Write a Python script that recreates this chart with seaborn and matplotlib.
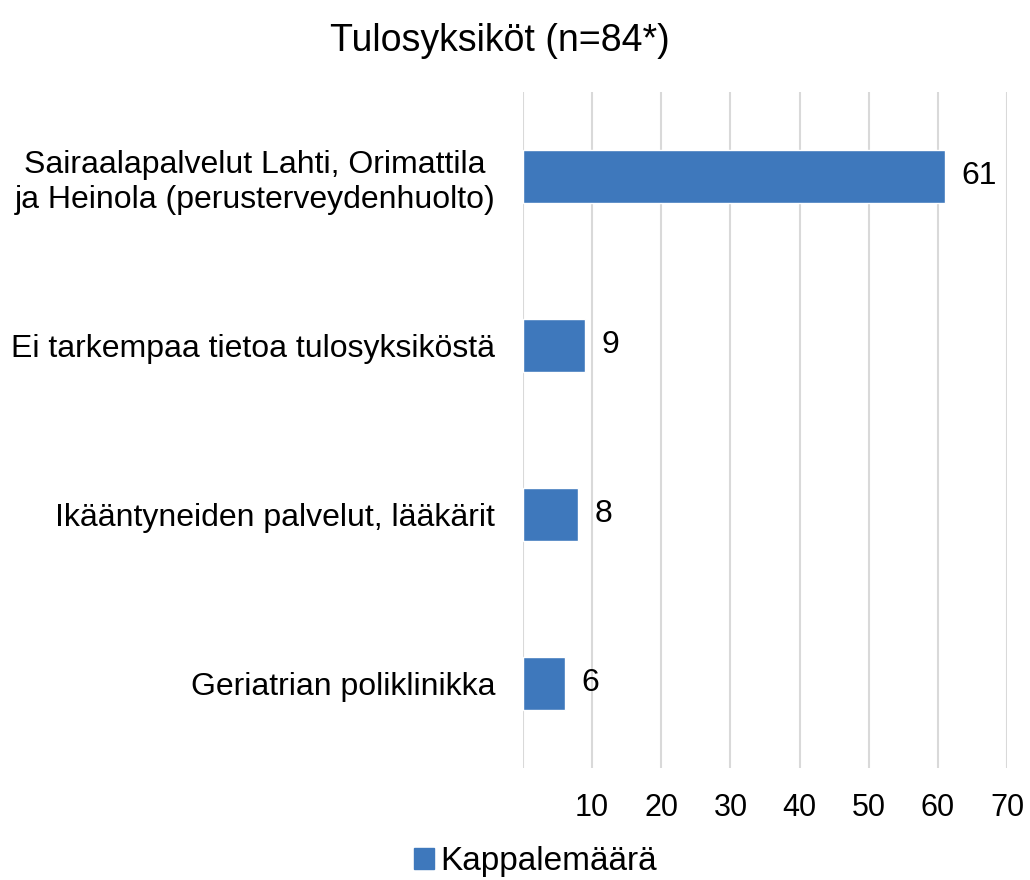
import matplotlib
matplotlib.use('Agg')
import matplotlib.pyplot as plt
import pandas as pd
import seaborn as sns

# data
categories = [
    'Sairaalapalvelut Lahti, Orimattila\nja Heinola (perusterveydenhuolto)',
    'Ei tarkempaa tietoa tulosyksiköstä',
    'Ikääntyneiden palvelut, lääkärit',
    'Geriatrian poliklinikka',
]
counts = [61, 9, 8, 6]
x_ticks = [0, 10, 20, 30, 40, 50, 60, 70]
x_tick_labels = ['', '10', '20', '30', '40', '50', '60', '70']
series_name = 'Kappalemäärä'
title = 'Tulosyksiköt (n=84*)'

bar_color = '#3E78BC'

sns.set_theme(style='white')
plt.rcParams['font.family'] = ['Liberation Sans', 'DejaVu Sans']
plt.rcParams['text.color'] = 'black'
plt.rcParams['xtick.color'] = 'black'
plt.rcParams['ytick.color'] = 'black'

df = pd.DataFrame({'yksikko': categories, 'maara': counts})

fig = plt.figure(figsize=(10.3, 8.8), dpi=100)
ax = fig.add_axes([0.5078, 0.1273, 0.4699, 0.7682])

sns.barplot(data=df, y='yksikko', x='maara', color=bar_color, width=0.31,
            saturation=1, ax=ax, zorder=3)

ax.set_xlim(0, 70)
ax.set_xticks(x_ticks)
ax.set_xticklabels(x_tick_labels, fontsize=22)
ax.tick_params(axis='x', length=0, pad=18)
ax.tick_params(axis='y', length=0, pad=20, labelsize=23)
for lbl in ax.get_yticklabels():
    lbl.set_multialignment('center')

ax.grid(axis='x', color='#D9D9D9', linewidth=1.5, zorder=0)
ax.grid(axis='y', visible=False)
for s in ax.spines.values():
    s.set_visible(False)
ax.set_xlabel('')
ax.set_ylabel('')

for cont in ax.containers:
    ax.bar_label(cont, labels=[str(v) for v in counts], padding=12, fontsize=23)

fig.text(0.485, 0.953, title, ha='center', va='center', fontsize=27)

handle = plt.Rectangle((0, 0), 1, 1, color=bar_color)
fig.legend([handle], [series_name], loc='center', bbox_to_anchor=(0.52, 0.021),
           frameon=False, fontsize=24, handlelength=0.6, handleheight=0.6,
           handletextpad=0.2, borderpad=0)

fig.savefig('out.png', dpi=100)
